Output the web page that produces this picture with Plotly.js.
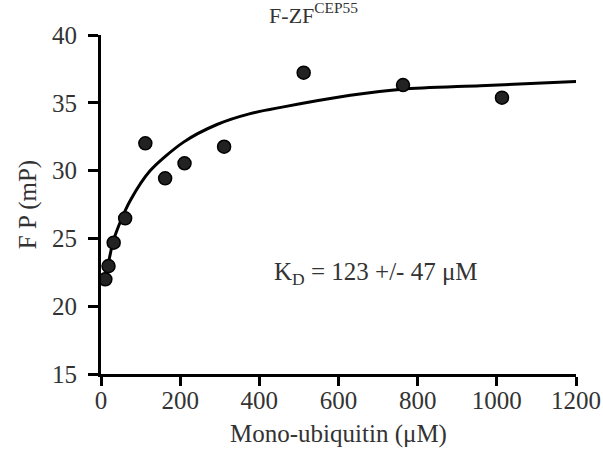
<!DOCTYPE html>
<html>
<head>
<meta charset="utf-8">
<script src="https://cdn.plot.ly/plotly-3.0.1.min.js"></script>
<style>html,body{margin:0;padding:0;background:#fff;}#chart{width:603px;height:464px;}</style>
</head>
<body>
<div id="chart"></div>
<script>
// Measured points: mono-ubiquitin concentration (µM) vs FP (mP)
const ubConc = [11, 19, 32, 61, 112, 162, 211, 311, 512, 763, 1013];
const fpValues = [21.98, 22.96, 24.68, 26.48, 32.01, 29.43, 30.54, 31.76, 37.22, 36.31, 35.38];

// Fitted binding curve
const fitX = [6.6, 18, 31, 50, 74, 124.5, 208.6, 293, 377, 461, 545, 630, 761, 958, 1200];
const fitY = [21.7, 23.1, 24.8, 26.3, 27.8, 30.0, 32.1, 33.4, 34.2, 34.7, 35.15, 35.55, 36.0, 36.26, 36.57];

const xTicks = [0, 200, 400, 600, 800, 1000, 1200];
const yTicks = [15, 20, 25, 30, 35, 40];

const FONT = 'Liberation Serif, Times New Roman, serif';
const TXT = '#333';

const traces = [
  {
    x: fitX, y: fitY, type: 'scatter', mode: 'lines',
    line: {color: '#000', width: 3, shape: 'spline', smoothing: 0.8},
    hoverinfo: 'skip', showlegend: false
  },
  {
    x: ubConc, y: fpValues, type: 'scatter', mode: 'markers',
    marker: {size: 13, color: '#222', line: {color: '#000', width: 1.5}},
    showlegend: false
  }
];

const layout = {
  width: 603, height: 464,
  margin: {l: 101, r: 27, t: 35, b: 90},
  paper_bgcolor: '#fff', plot_bgcolor: '#fff',
  font: {family: FONT, color: TXT, size: 25},
  title: {
    text: 'F-ZF<sup>CEP55</sup>',
    font: {family: FONT, size: 22, color: TXT},
    xref: 'container', yref: 'container', x: 0.52, y: 0.968,
    xanchor: 'center', yanchor: 'middle'
  },
  xaxis: {
    range: [0, 1200], tickvals: xTicks, ticktext: xTicks.map(String),
    showgrid: false, zeroline: false, showline: true, linecolor: '#000', linewidth: 3,
    ticks: 'outside', ticklen: 9, tickwidth: 3, tickcolor: '#000',
    ticklabelstandoff: -7,
    tickfont: {family: FONT, size: 25, color: TXT},
    title: {text: 'Mono-ubiquitin (μM)', font: {family: FONT, size: 25, color: TXT}, standoff: 12}
  },
  yaxis: {
    range: [15, 40], tickvals: yTicks, ticktext: yTicks.map(String),
    showgrid: false, zeroline: false, showline: true, linecolor: '#000', linewidth: 3,
    ticks: 'outside', ticklen: 10, tickwidth: 3, tickcolor: '#000',
    ticklabelstandoff: 6,
    tickfont: {family: FONT, size: 25, color: TXT},
    title: {text: 'F P (mP)', font: {family: FONT, size: 25, color: TXT}, standoff: 9}
  },
  annotations: [{
    text: 'K<sub>D</sub> = 123 +/- 47 μM',
    xref: 'x', yref: 'y', x: 432, y: 22.4, xanchor: 'left', yanchor: 'middle',
    showarrow: false, font: {family: FONT, size: 25, color: TXT}
  }]
};

Plotly.newPlot('chart', traces, layout, {displayModeBar: false, staticPlot: true});
</script>
</body>
</html>
